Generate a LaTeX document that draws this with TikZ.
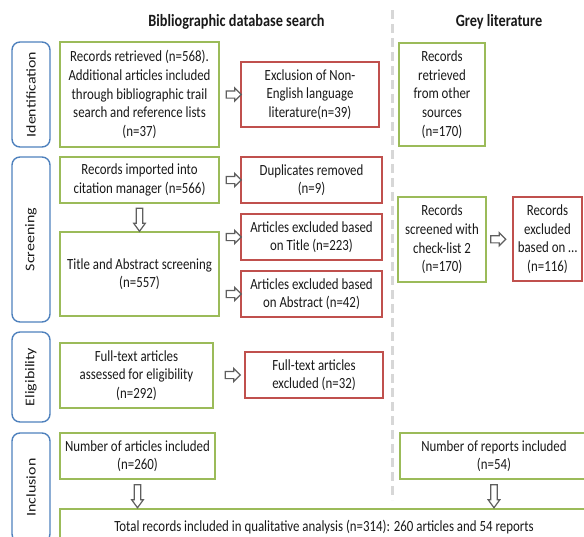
\documentclass[tikz,border=0pt]{standalone}
\usepackage{fontspec}
\setmainfont{Carlito}[FakeStretch=0.83]
\newfontfamily\lblfont{Carlito}[FakeStretch=1.2]
\usetikzlibrary{shapes.arrows,calc}
\definecolor{greenc}{RGB}{155,187,89}
\definecolor{redc}{RGB}{192,80,77}
\definecolor{bluec}{RGB}{79,129,189}
\definecolor{arrgray}{RGB}{95,95,95}
\definecolor{dashgray}{RGB}{215,215,215}
\definecolor{txt}{RGB}{25,25,25}
\begin{document}
\begin{tikzpicture}[x=1pt,y=-1pt,
  box/.style={draw, line width=1.4pt, align=center, inner sep=0pt,
    font=\fontsize{15.5}{18.6}\selectfont, text=txt},
  gbox/.style={box, draw=greenc},
  rbox/.style={box, draw=redc},
  phase/.style={draw=bluec, line width=1.4pt, rounded corners=8pt, inner sep=0pt,
    rotate=90, font=\lblfont\fontsize{13.3}{16}\selectfont, text=txt},
  title/.style={font=\bfseries\fontsize{17.2}{20}\selectfont, text=txt},
  harrow/.style={single arrow, draw=arrgray, line width=1.2pt, fill=white,
    minimum height=15pt, minimum width=1pt, single arrow head extend=3pt,
    inner xsep=0pt, inner ysep=3pt, font=\fontsize{1}{1}\selectfont},
  varrow/.style={single arrow, draw=arrgray, line width=1.2pt, fill=white, rotate=-90,
    minimum height=23pt, minimum width=1pt, single arrow head extend=2.5pt,
    single arrow tip angle=72, inner xsep=0pt, inner ysep=2.7pt, font=\fontsize{1}{1}\selectfont}
]
\useasboundingbox (0,0) rectangle (584,536);
\clip (0,0) rectangle (584,536);

% titles and separator
\node[title] (t1) at (236.5,22) {Bibliographic database search};
\node[title] (t2) at (499,22) {Grey literature};
\draw[dashgray, line width=3pt, dash pattern=on 9pt off 5pt] (392,10) -- (392,500);

% phase labels
\node[phase, minimum width=105pt, minimum height=38pt] (pid) at (31,94.5) {Identification};
\node[phase, minimum width=165pt, minimum height=38pt] (psc) at (31,239.5) {Screening};
\node[phase, minimum width=90pt, minimum height=38pt] (pel) at (31,377) {Eligibility};
\node[phase, minimum width=109pt, minimum height=38pt] (pin) at (31,487.5) {Inclusion};

% green boxes
\node[gbox, minimum width=159pt, minimum height=105pt] (rec) at (139.5,94.5)
  {Records retrieved (n=568).\\Additional articles included\\through bibliographic trail\\search and reference lists\\(n=37)};
\node[gbox, minimum width=159pt, minimum height=46pt] (imp) at (139.5,180)
  {Records imported into\\citation manager (n=566)};
\node[gbox, minimum width=159pt, minimum height=84pt] (tas) at (139.5,274)
  {Title and Abstract screening\\(n=557)};
\node[gbox, minimum width=153pt, minimum height=65pt] (ful) at (136.5,375.5)
  {Full-text articles\\assessed for eligibility\\(n=292)};
\node[gbox, minimum width=155pt, minimum height=46pt] (nai) at (137.5,456)
  {Number of articles included\\(n=260)};
\node[gbox, minimum width=86pt, minimum height=103pt] (oth) at (442,94.5)
  {Records\\retrieved\\from other\\sources\\(n=170)};
\node[gbox, minimum width=88pt, minimum height=85pt] (chk) at (442,239.5)
  {Records\\screened with\\check-list 2\\(n=170)};
\node[gbox, minimum width=188pt, minimum height=46pt] (nri) at (494,456)
  {Number of reports included\\(n=54)};
\node[gbox, minimum width=528pt, minimum height=36pt] (tot) at (324,527)
  {Total records included in qualitative analysis (n=314): 260 articles and 54 reports};

% red boxes
\node[rbox, minimum width=138pt, minimum height=65pt] (exl) at (310,94.5)
  {Exclusion of Non-\\English language\\literature(n=39)};
\node[rbox, minimum width=141pt, minimum height=46pt] (dup) at (311.5,180)
  {Duplicates removed\\(n=9)};
\node[rbox, minimum width=141pt, minimum height=46pt] (ext) at (311.5,237)
  {Articles excluded based\\on Title (n=223)};
\node[rbox, minimum width=141pt, minimum height=46pt] (exa) at (311.5,294)
  {Articles excluded based\\on Abstract (n=42)};
\node[rbox, minimum width=138pt, minimum height=46pt] (fte) at (314,375)
  {Full-text articles\\excluded (n=32)};
\node[rbox, minimum width=69pt, minimum height=84pt] (rex) at (547.5,239)
  {Records\\excluded\\based on …\\(n=116)};

% hollow arrows
\node[harrow, xshift=2pt] (a1) at ($(rec.east)!0.5!(exl.west)$) {};
\node[harrow, xshift=2pt] (a2) at ($(imp.east)!0.5!(dup.west)$) {};
\node[harrow, xshift=2pt] (a3) at ($(tas.east|-ext.west)!0.5!(ext.west)$) {};
\node[harrow, xshift=2pt] (a4) at ($(tas.east|-exa.west)!0.5!(exa.west)$) {};
\node[harrow, xshift=2pt] (a5) at ($(ful.east|-fte.west)!0.5!(fte.west)$) {};
\node[harrow, xshift=-3pt] (a6) at ($(chk.east)!0.5!(rex.west)$) {};
\node[varrow] (v1) at ($(imp.south)!0.5!(tas.north)$) {};
\node[varrow] (v2) at ($(nai.south)!0.5!(nai.south|-tot.north)$) {};
\node[varrow] (v3) at ($(nri.south)!0.5!(nri.south|-tot.north)$) {};
\end{tikzpicture}
\end{document}
